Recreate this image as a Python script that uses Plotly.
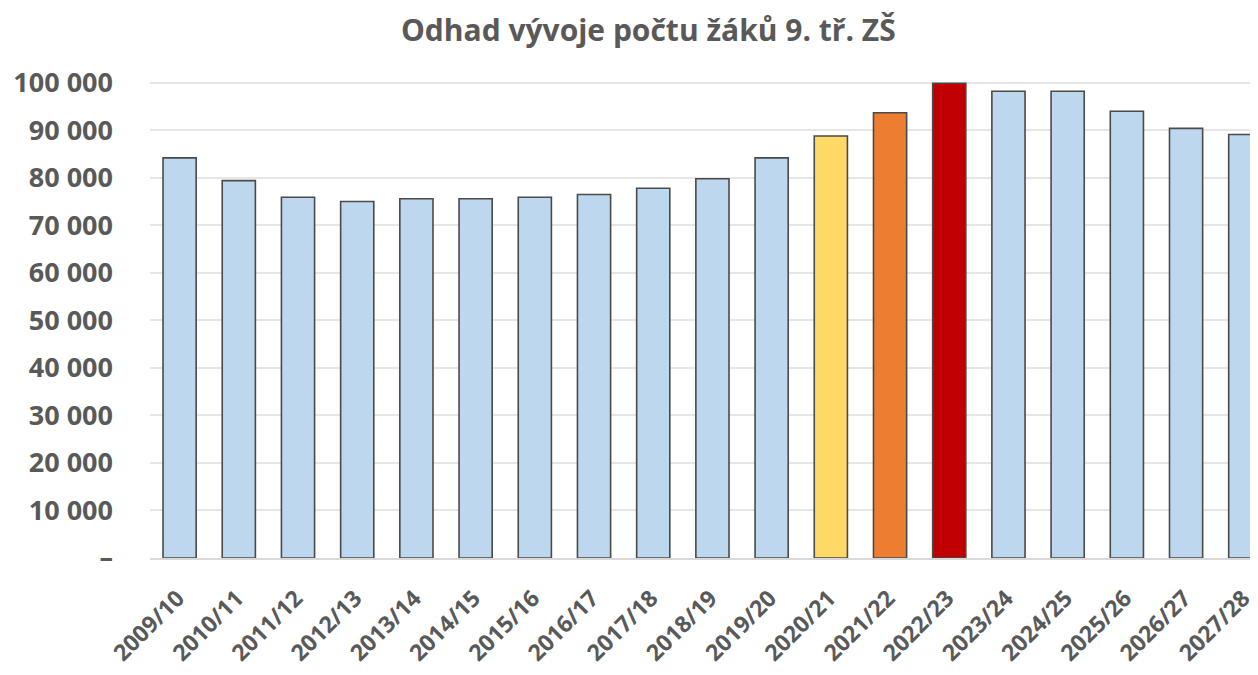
import plotly.graph_objects as go

categories = ["2009/10", "2010/11", "2011/12", "2012/13", "2013/14", "2014/15", "2015/16",
              "2016/17", "2017/18", "2018/19", "2019/20", "2020/21", "2021/22", "2022/23",
              "2023/24", "2024/25", "2025/26", "2026/27", "2027/28"]
values = [84200, 79400, 75900, 75000, 75600, 75600, 75900,
          76500, 77800, 79800, 84200, 88800, 93700, 99900,
          98200, 98200, 94000, 90400, 89100]
bar_colors = ["#BDD7EE"] * 11 + ["#FFD966", "#ED7D31", "#C00000"] + ["#BDD7EE"] * 5

y_tickvals = [0, 10000, 20000, 30000, 40000, 50000, 60000, 70000, 80000, 90000, 100000]
y_ticktext = ["–", "10 000", "20 000", "30 000", "40 000", "50 000", "60 000",
              "70 000", "80 000", "90 000", "100 000"]

txt = "#595959"
font_family = "Open Sans, Segoe UI, sans-serif"

fig = go.Figure(go.Bar(
    x=categories, y=values,
    marker=dict(color=bar_colors, line=dict(color="#4A4A4A", width=1.6)),
    width=0.56,
))

fig.update_layout(
    width=1258, height=675,
    margin=dict(l=142, r=0, t=51, b=125),
    paper_bgcolor="white", plot_bgcolor="white",
    title=dict(text="<b>Odhad vývoje počtu žáků 9. tř. ZŠ</b>",
               x=0.509, xanchor="center", y=0.967, yanchor="middle",
               font=dict(family=font_family, size=30, color=txt)),
    showlegend=False,
    font=dict(family=font_family, color=txt),
)
fig.update_xaxes(
    range=[-0.5, 18.35], tickangle=-45,
    tickfont=dict(family=font_family, size=23, color=txt, weight="bold"),
    showline=True, linecolor="#D9D9D9", linewidth=1.5, ticks="",
    showgrid=False, ticklabelshift=-2, ticklabelstandoff=16,
)
fig.update_yaxes(
    range=[0, 105000], tickvals=y_tickvals, ticktext=y_ticktext,
    tickfont=dict(family=font_family, size=27, color=txt, weight="bold"),
    showgrid=True, gridcolor="#E6E6E6", gridwidth=1.5,
    zeroline=False, showline=False, ticklabelstandoff=36,
)

fig.write_html("out.html")
